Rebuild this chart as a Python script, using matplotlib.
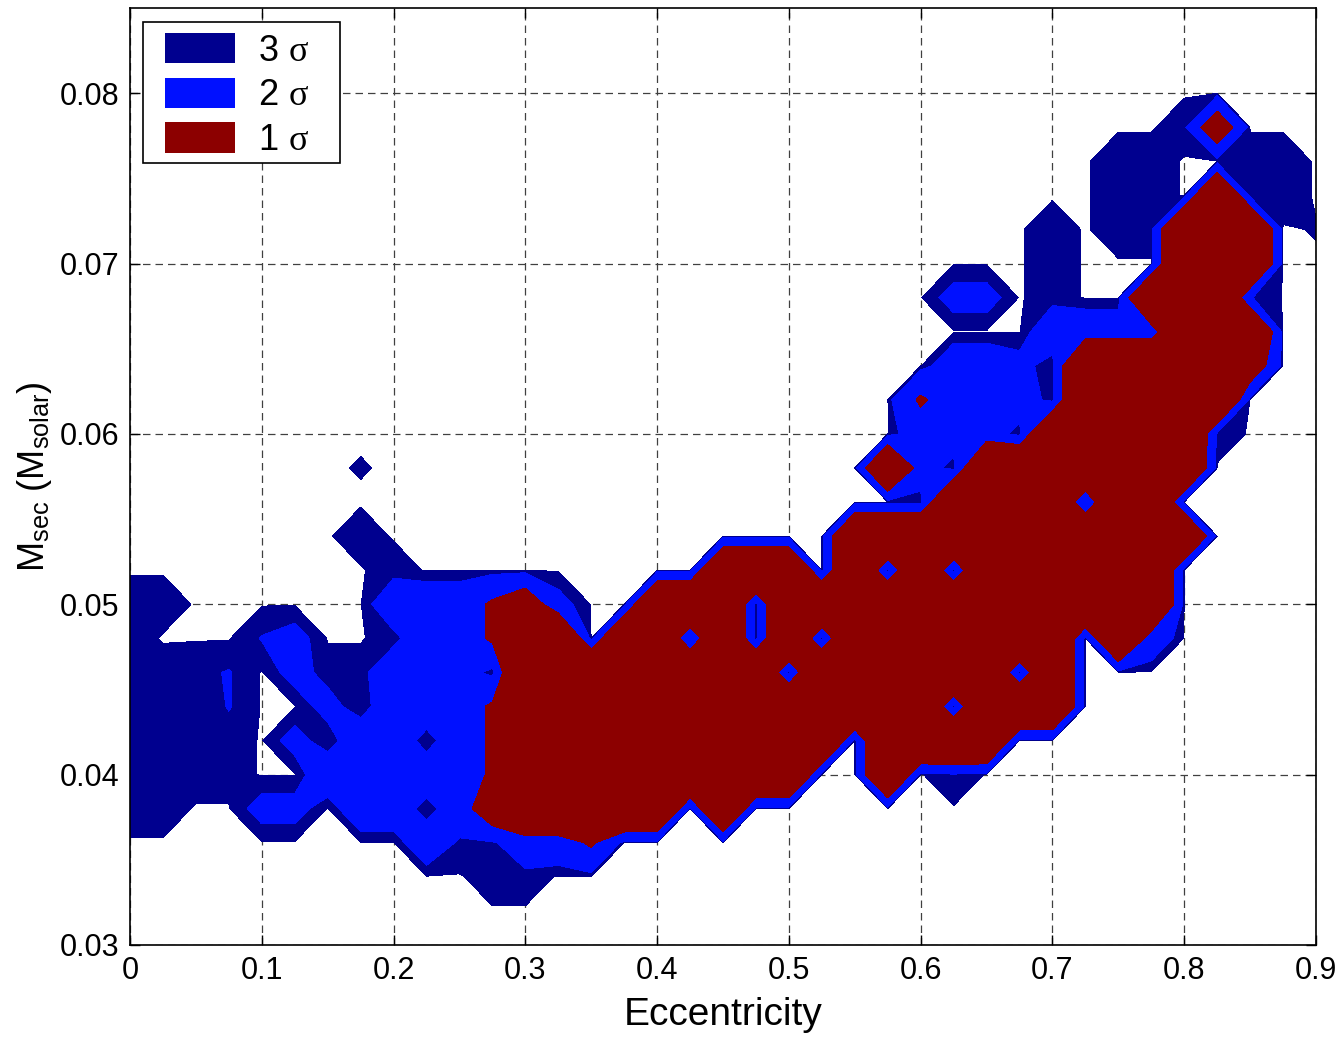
import numpy as np
import matplotlib
matplotlib.use('Agg')
import matplotlib.pyplot as plt
from matplotlib.patches import Patch, Rectangle
from matplotlib.legend_handler import HandlerPatch

plt.rcParams['font.family'] = ['Liberation Sans', 'DejaVu Sans']
plt.rcParams['mathtext.fontset'] = 'custom'
plt.rcParams['mathtext.rm'] = 'Liberation Sans'
plt.rcParams['mathtext.it'] = 'Liberation Serif'

# fit grid: eccentricity columns, secondary mass rows
ecc = [0.000, 0.025, 0.050, 0.075, 0.100, 0.125, 0.150, 0.175, 0.200, 0.225,
       0.250, 0.275, 0.300, 0.325, 0.350, 0.375, 0.400, 0.425, 0.450, 0.475,
       0.500, 0.525, 0.550, 0.575, 0.600, 0.625, 0.650, 0.675, 0.700, 0.725,
       0.750, 0.775, 0.800, 0.825, 0.850, 0.875, 0.900]
msec = [0.030, 0.032, 0.034, 0.036, 0.038, 0.040, 0.042, 0.044, 0.046, 0.048,
        0.050, 0.052, 0.054, 0.056, 0.058, 0.060, 0.062, 0.064, 0.066, 0.068,
        0.070, 0.072, 0.074, 0.076, 0.078, 0.080, 0.082, 0.084]

# delta chi^2 per grid point, first row = 0.084, last row = 0.030
# digits 0-9, a=10, b=11, c=12, '.' = no acceptable fit
dchi2_rows = [
    '.' * 37,                                   # 0.084
    '.' * 37,                                   # 0.082
    '.' * 37,                                   # 0.080
    '.' * 32 + '81...',                         # 0.078
    '.' * 30 + '88..88.',                       # 0.076
    '.' * 30 + '88.0c8.',                       # 0.074
    '.' * 28 + '8.88000.b',                     # 0.072
    '.' * 28 + '8...000..',                     # 0.070
    '.' * 25 + '55.8..0006..',                  # 0.068
    '.' * 28 + '4444000..',                     # 0.066
    '.' * 25 + '445c000001..',                  # 0.064
    '.' * 24 + '2444c00000...',                 # 0.062
    '.' * 24 + '444c000008...',                 # 0.060
    '.......b' + '.' * 15 + '04c0000000....',   # 0.058
    '.' * 24 + 'c0000c00.....',                 # 0.056
    '.......8' + '.' * 14 + '00000000000....',  # 0.054
    '........8' + '.' * 9 + '000.0c0c000000.....',  # 0.052
    '88......444215..000.000000000000.....',    # 0.050
    '8...65..844200.00c0.0c0000000.04.....',    # 0.048
    '8876.588444c00000000c000000c0........',    # 0.046
    '88c6..5c44420000000000000c000........',    # 0.044
    '8c88.5c44c420000000000.0000..........',    # 0.042
    '8c88..444442000000000..0.7...........',    # 0.040
    '88..55.44c4100000.0..................',    # 0.038
    '.........477442......................',    # 0.036
    '...........88........................',    # 0.034
    '.' * 37,                                   # 0.032
    '.' * 37,                                   # 0.030
]

sigma_dchi2 = [11.83, 6.18, 2.30]   # 3, 2, 1 sigma for two parameters
sigma_labels = ['3 $\\sigma$', '2 $\\sigma$', '1 $\\sigma$']
sigma_colors = ['#00008F', '#0010FF', '#8C0000']

for r in dchi2_rows:
    assert len(r) == len(ecc), r

code = {'.': np.inf, 'a': 10, 'b': 11, 'c': 12}
grid = np.array([[code[ch] if ch in code else int(ch) for ch in row]
                 for row in dchi2_rows[::-1]], dtype=float)
like = np.exp(-0.5 * grid)
levels = list(np.exp(-0.5 * np.array(sigma_dchi2))) + [1.01]

fig = plt.figure(figsize=(13.43, 10.37), dpi=100)
ax = fig.add_axes([130 / 1343, 92 / 1037, 1186 / 1343, 937 / 1037])
ax.contourf(ecc, msec, like, levels=levels, colors=sigma_colors, zorder=2)

ax.set_xlim(0, 0.9)
ax.set_ylim(0.03, 0.085)
ax.set_xticks([0, 0.1, 0.2, 0.3, 0.4, 0.5, 0.6, 0.7, 0.8, 0.9])
ax.set_xticklabels(['0', '0.1', '0.2', '0.3', '0.4', '0.5', '0.6', '0.7', '0.8', '0.9'])
ax.set_yticks([0.03, 0.04, 0.05, 0.06, 0.07, 0.08])
ax.set_yticklabels(['0.03', '0.04', '0.05', '0.06', '0.07', '0.08'])
ax.tick_params(direction='in', top=True, right=True, length=7, width=1,
               labelsize=22, pad=8)
ax.set_axisbelow(True)
ax.grid(True, color='0.25', linestyle=(0, (6, 4)), linewidth=0.9)
for s in ax.spines.values():
    s.set_linewidth(1.2)

ax.set_xlabel('Eccentricity', fontsize=28, labelpad=8)
ax.set_ylabel('M$_{\\mathrm{sec}}$ (M$_{\\mathrm{solar}}$)', fontsize=26, labelpad=4)


def legend_block(legend, orig_handle, xdescent, ydescent, width, height, fontsize):
    inset = 0.3 * fontsize
    return Rectangle((-xdescent + inset, -ydescent), width - inset, height)


handles = [Patch(facecolor=c, edgecolor='none') for c in sigma_colors]
ax.legend(handles, sigma_labels, loc='upper left',
          bbox_to_anchor=(0.011, 0.985), borderaxespad=0,
          fontsize=26, frameon=False,
          handlelength=2.25, handleheight=0.92, handletextpad=0.64,
          labelspacing=0.25, borderpad=0.3,
          handler_map={Patch: HandlerPatch(patch_func=legend_block)})
# legend box, wider than the entries like the original
ax.add_patch(Rectangle((0.011, 0.835), 0.166, 0.150, transform=ax.transAxes,
                       facecolor='white', edgecolor='k', linewidth=1.2,
                       zorder=4))

fig.savefig('out.png', dpi=100)
